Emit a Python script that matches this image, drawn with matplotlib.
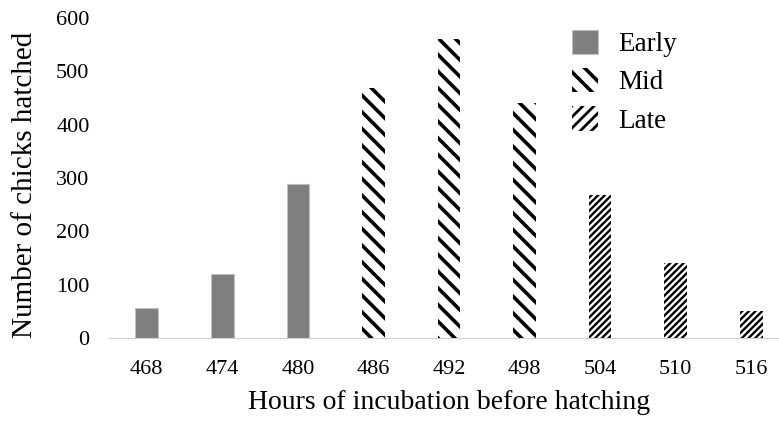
import matplotlib.pyplot as plt
import numpy as np

plt.rcParams['font.family'] = ['Liberation Serif', 'DejaVu Serif']
plt.rcParams['hatch.linewidth'] = 2.6

hours = ['468', '474', '480', '486', '492', '498', '504', '510', '516']
early = [56, 120, 289]
mid = [469, 561, 441]
late = [268, 141, 51]

x = np.arange(len(hours))
fig = plt.figure(figsize=(7.79, 4.22), dpi=100)
ax = fig.add_axes([109/779, 84/422, 680/779, 320/422])

w = 0.3
ax.bar(x[0:3], early, w, color='#7f7f7f', edgecolor='#bfbfbf', linewidth=0.8, label='Early')
ax.bar(x[3:6], mid, w, color='white', edgecolor='black', linewidth=0, hatch='\\\\', label='Mid')
bl = ax.bar(x[6:9], late, w, color='white', edgecolor='black', linewidth=0, hatch='/////', label='Late')
for p in bl:
    if hasattr(p, 'set_hatch_linewidth'):
        p.set_hatch_linewidth(1.7)

ax.set_xlim(-0.5, 8.5)
ax.set_ylim(0, 600)
ax.set_yticks(range(0, 601, 100))
ax.set_xticks(x)
ax.set_xticklabels(hours)
ax.tick_params(length=0, labelsize=16)
ax.tick_params(axis='x', pad=16)
ax.tick_params(axis='y', pad=14)
for s in ['top', 'right', 'left']:
    ax.spines[s].set_visible(False)
ax.spines['bottom'].set_color('#d0d0d0')

ax.set_xlabel('Hours of incubation before hatching', fontsize=20, labelpad=8)
ax.set_ylabel('Number of chicks hatched', fontsize=21)
ax.yaxis.set_label_coords(-0.104, 0.48)

leg = ax.legend(loc='upper left', bbox_to_anchor=(561/779, 1 - 19/422), bbox_transform=fig.transFigure,
                borderaxespad=0, frameon=False, fontsize=19.5,
                handlelength=0.95, handleheight=1.0, handletextpad=0.75, labelspacing=0.4)
h = leg.legend_handles[2]
h.set_hatch('///')
if hasattr(h, 'set_hatch_linewidth'):
    h.set_hatch_linewidth(2.0)

plt.savefig('out.png', dpi=100)
